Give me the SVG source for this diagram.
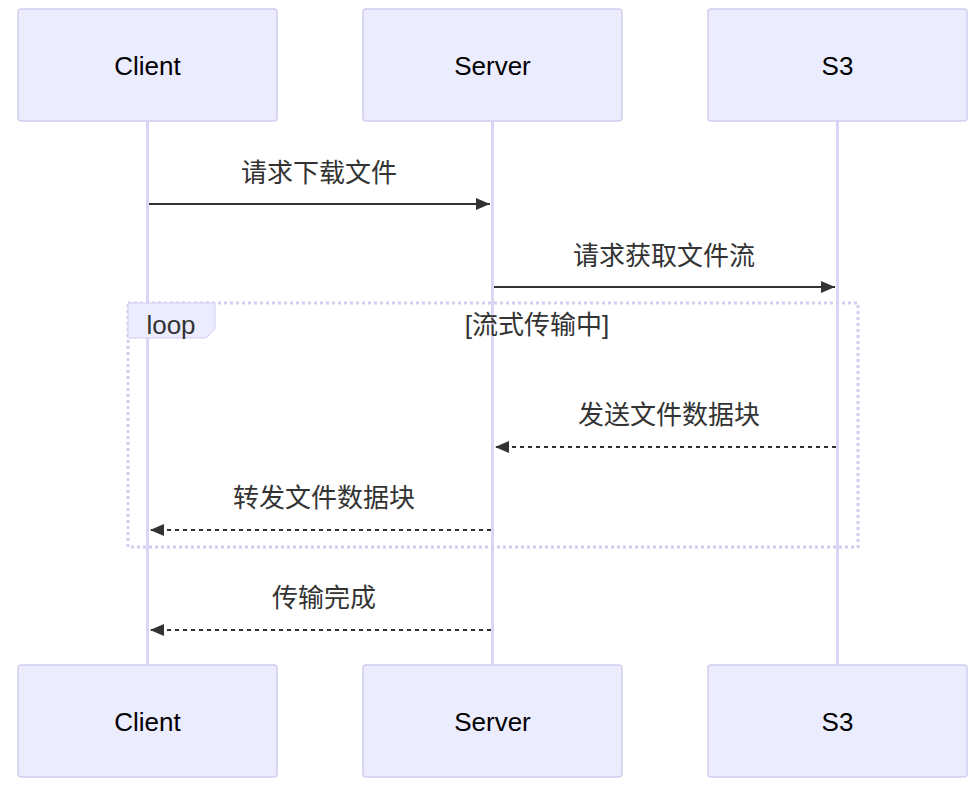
<svg xmlns="http://www.w3.org/2000/svg" width="979" height="803" viewBox="0 0 979 803">
<style>
.actor{fill:#ECECFF;stroke:#d4cdf0;stroke-width:1.5}
.life{stroke:#ddd5f5;stroke-width:3}
text{font-family:"Liberation Sans","Noto Sans CJK SC",sans-serif;font-size:26px;fill:#333;text-anchor:middle}
.at{fill:#000}
.msg{stroke:#333;stroke-width:2;fill:none}
.dash{stroke-dasharray:4,4}
</style>
<defs><marker id="ah" viewBox="0 0 14 12" refX="14" refY="6" markerWidth="14" markerHeight="12" markerUnits="userSpaceOnUse" orient="auto"><path d="M0,0L14,6L0,12z" fill="#333"/></marker></defs>
<rect width="979" height="803" fill="#fff"/>
<g id="lifelines">
<line class="life" x1="147.5" y1="121" x2="147.5" y2="665"/>
<line class="life" x1="492.5" y1="121" x2="492.5" y2="665"/>
<line class="life" x1="837.5" y1="121" x2="837.5" y2="665"/>
</g>
<g id="client-top"><rect class="actor" x="18" y="9" width="259" height="112" rx="3"/><text class="at" x="147.5" y="75">Client</text></g>
<g id="server-top"><rect class="actor" x="363" y="9" width="259" height="112" rx="3"/><text class="at" x="492.5" y="75">Server</text></g>
<g id="s3-top"><rect class="actor" x="708" y="9" width="259" height="112" rx="3"/><text class="at" x="837.5" y="75">S3</text></g>
<g id="client-bottom"><rect class="actor" x="18" y="665" width="259" height="112" rx="3"/><text class="at" x="147.5" y="731">Client</text></g>
<g id="server-bottom"><rect class="actor" x="363" y="665" width="259" height="112" rx="3"/><text class="at" x="492.5" y="731">Server</text></g>
<g id="s3-bottom"><rect class="actor" x="708" y="665" width="259" height="112" rx="3"/><text class="at" x="837.5" y="731">S3</text></g>
<g id="loop">
<rect x="128" y="303" width="730" height="244" fill="none" stroke="#d4cdf0" stroke-width="3" stroke-dasharray="3,3"/>
<polygon points="128,303 215,303 215,329 206,338 128,338" fill="#ECECFF" stroke="#d4cdf0"/>
<text x="171" y="334" fill="#000">loop</text>
<text x="537" y="334" fill="#000">[流式传输中]</text>
</g>
<g id="connectors">
<line class="msg" x1="149" y1="204" x2="490" y2="204" marker-end="url(#ah)"/>
<text x="319" y="182">请求下载文件</text>
<line class="msg" x1="494" y1="287" x2="835" y2="287" marker-end="url(#ah)"/>
<text x="664" y="265">请求获取文件流</text>
<line class="msg dash" x1="836" y1="447" x2="495" y2="447" marker-end="url(#ah)"/>
<text x="669" y="424">发送文件数据块</text>
<line class="msg dash" x1="491" y1="530" x2="150" y2="530" marker-end="url(#ah)"/>
<text x="324" y="507">转发文件数据块</text>
<line class="msg dash" x1="491" y1="630" x2="150" y2="630" marker-end="url(#ah)"/>
<text x="324" y="607">传输完成</text>
</g>
</svg>
